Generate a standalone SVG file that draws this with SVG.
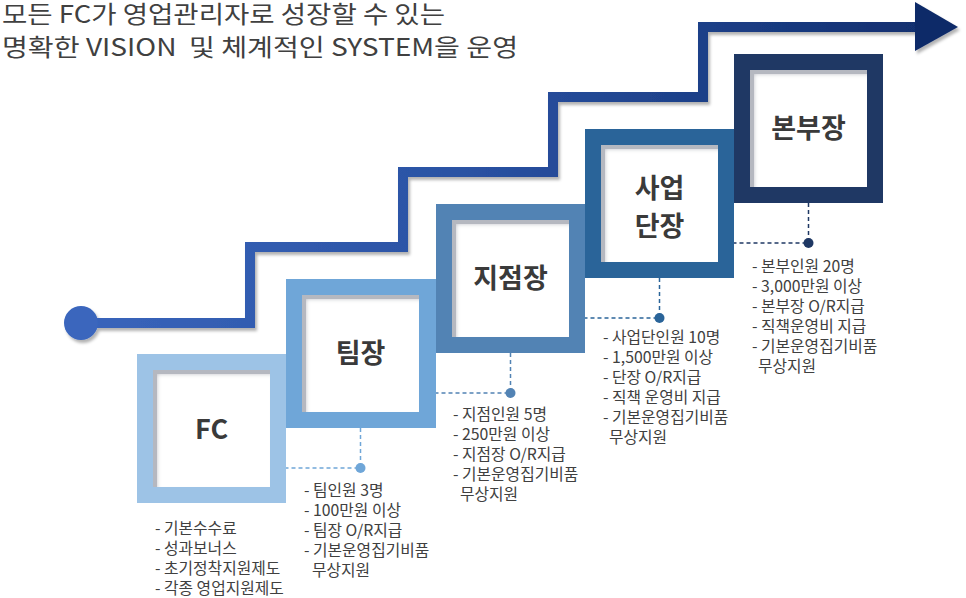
<svg xmlns="http://www.w3.org/2000/svg" width="966" height="598" viewBox="0 0 966 598">
  <defs>
    <style>
      .title { font-family: "Noto Sans CJK KR", "Noto Sans", sans-serif; font-size: 24px; fill: #404040; font-weight: 400; white-space: pre; }
      .label { font-family: "Noto Sans CJK KR", "Noto Sans", sans-serif; font-size: 27px; font-weight: 700; fill: #3a3a3a; text-anchor: middle; }
      .list { font-family: "Noto Sans CJK KR", "Noto Sans", sans-serif; font-size: 15.8px; fill: #404040; }
      .inner { fill: #ffffff; filter: url(#inset); }
      .dash { fill: none; stroke-width: 1.5; stroke-dasharray: 4 3; }
    </style>
    <linearGradient id="stairGrad" gradientUnits="userSpaceOnUse" x1="60" y1="0" x2="960" y2="0">
      <stop offset="0" stop-color="#3a66bd"/>
      <stop offset="0.45" stop-color="#2a52a3"/>
      <stop offset="1" stop-color="#0f2c6b"/>
    </linearGradient>
    <filter id="inset" x="0" y="0" width="1" height="1">
      <feGaussianBlur in="SourceAlpha" stdDeviation="2" result="b"/>
      <feOffset in="b" dx="4" dy="4" result="o"/>
      <feComposite in="SourceAlpha" in2="o" operator="out" result="s"/>
      <feFlood flood-color="#5c6680" flood-opacity="0.6"/>
      <feComposite in2="s" operator="in" result="shadow"/>
      <feMerge><feMergeNode in="SourceGraphic"/><feMergeNode in="shadow"/></feMerge>
    </filter>
    <filter id="drop" x="-5%" y="-5%" width="110%" height="110%">
      <feGaussianBlur in="SourceAlpha" stdDeviation="1.5"/>
      <feOffset dx="2" dy="3" result="o"/>
      <feFlood flood-color="#000" flood-opacity="0.3"/>
      <feComposite in2="o" operator="in"/>
      <feMerge><feMergeNode/><feMergeNode in="SourceGraphic"/></feMerge>
    </filter>
  </defs>

  <rect width="966" height="598" fill="#ffffff"/>

  <g id="title">
    <text class="title" x="2" y="23" textLength="443" lengthAdjust="spacingAndGlyphs">모든 FC가 영업관리자로 성장할 수 있는</text>
    <text class="title" x="2" y="56" textLength="516" lengthAdjust="spacingAndGlyphs">명확한 VISION  및 체계적인 SYSTEM을 운영</text>
  </g>

  <g id="connectors">
    <g filter="url(#drop)">
      <path d="M81 323 H250 V247 H403 V172 H553 V97 H703 V27 H918" fill="none" stroke="url(#stairGrad)" stroke-width="10" stroke-linejoin="miter"/>
      <circle cx="81" cy="323" r="17" fill="#3a66bd"/>
      <polygon points="915,2 958,27 915,51" fill="#0e2a68"/>
    </g>
    <path class="dash" d="M360.5 428 V468 H286" stroke="#6fa6d8"/>
    <circle cx="360.5" cy="468" r="5" fill="#6fa6d8"/>
    <path class="dash" d="M510.5 353 V393 H436" stroke="#5283b4"/>
    <circle cx="510.5" cy="393" r="5" fill="#5283b4"/>
    <path class="dash" d="M659.5 278 V318 H585" stroke="#2a6499"/>
    <circle cx="659.5" cy="318" r="5" fill="#2a6499"/>
    <path class="dash" d="M808.5 203 V243 H734" stroke="#1f3864"/>
    <circle cx="808.5" cy="243" r="5" fill="#1f3864"/>
  </g>

  <g id="node-fc">
    <rect x="137" y="354" width="149" height="149" fill="#9dc3e6"/>
    <rect class="inner" x="153" y="370" width="117" height="117"/>
    <text class="label" x="211.5" y="439">FC</text>
    <text class="list" x="155" y="534">- 기본수수료</text>
    <text class="list" x="155" y="554">- 성과보너스</text>
    <text class="list" x="155" y="574">- 초기정착지원제도</text>
    <text class="list" x="155" y="594">- 각종 영업지원제도</text>
  </g>

  <g id="node-team">
    <rect x="286" y="279" width="150" height="149" fill="#6fa6d8"/>
    <rect class="inner" x="302" y="295" width="117" height="117"/>
    <text class="label" x="360.5" y="363">팀장</text>
    <text class="list" x="304" y="496">- 팀인원 3명</text>
    <text class="list" x="304" y="516">- 100만원 이상</text>
    <text class="list" x="304" y="536">- 팀장 O/R지급</text>
    <text class="list" x="304" y="556">- 기본운영집기비품</text>
    <text class="list" x="312" y="576">무상지원</text>
  </g>

  <g id="node-branch">
    <rect x="436" y="204" width="149" height="149" fill="#5283b4"/>
    <rect class="inner" x="452" y="220" width="117" height="117"/>
    <text class="label" x="510.5" y="288">지점장</text>
    <text class="list" x="453" y="420">- 지점인원 5명</text>
    <text class="list" x="453" y="440">- 250만원 이상</text>
    <text class="list" x="453" y="460">- 지점장 O/R지급</text>
    <text class="list" x="453" y="480">- 기본운영집기비품</text>
    <text class="list" x="460" y="500">무상지원</text>
  </g>

  <g id="node-division">
    <rect x="585" y="129" width="149" height="149" fill="#2a6499"/>
    <rect class="inner" x="601" y="145" width="117" height="117"/>
    <text class="label" x="659.5" y="198">사업</text>
    <text class="label" x="659.5" y="236">단장</text>
    <text class="list" x="603" y="343">- 사업단인원 10명</text>
    <text class="list" x="603" y="363">- 1,500만원 이상</text>
    <text class="list" x="603" y="383">- 단장 O/R지급</text>
    <text class="list" x="603" y="403">- 직책 운영비 지급</text>
    <text class="list" x="603" y="423">- 기본운영집기비품</text>
    <text class="list" x="609" y="443">무상지원</text>
  </g>

  <g id="node-hq">
    <rect x="734" y="54" width="149" height="149" fill="#1f3864"/>
    <rect class="inner" x="750" y="70" width="117" height="117"/>
    <text class="label" x="808.5" y="138">본부장</text>
    <text class="list" x="752" y="272">- 본부인원 20명</text>
    <text class="list" x="752" y="292">- 3,000만원 이상</text>
    <text class="list" x="752" y="312">- 본부장 O/R지급</text>
    <text class="list" x="752" y="332">- 직책운영비 지급</text>
    <text class="list" x="752" y="352">- 기본운영집기비품</text>
    <text class="list" x="758" y="372">무상지원</text>
  </g>
</svg>
